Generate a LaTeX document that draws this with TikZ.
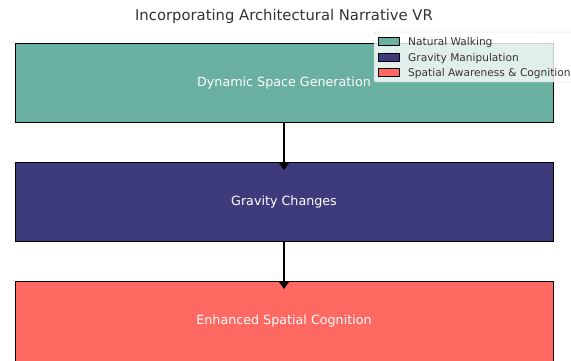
\documentclass[tikz,border=0pt]{standalone}
\usepackage{fontspec}
\setmainfont{DejaVu Sans}
\usetikzlibrary{positioning,arrows.meta}
\definecolor{walkcol}{HTML}{69B0A0}
\definecolor{gravcol}{HTML}{3D3B7C}
\definecolor{cogcol}{HTML}{FF6961}
\begin{document}
\begin{tikzpicture}[x=1pt,y=-1pt,
			stage/.style={draw=black, line width=0.6pt, minimum width=538pt, minimum height=79pt, inner sep=0pt, text=white, font=\fontsize{12.7}{15}\selectfont},
			flow/.style={-{Triangle[length=8pt,width=11pt]}, line width=1.4pt},
			swatch/.style={draw=black, line width=0.6pt, minimum width=21pt, minimum height=8pt, inner sep=0pt},
			entry/.style={anchor=base west, inner sep=0pt, font=\fontsize{10.6}{12}\selectfont, text=black!80}
			]
			\useasboundingbox (0,0) rectangle (571,360);
			\clip (0,0) rectangle (571,360);
			\node[font=\fontsize{14.8}{17}\selectfont, text=black!80] (title) at (284,16) {Incorporating Architectural Narrative VR};
			\node[stage, fill=walkcol] (dyn) at (284,82.5) {Dynamic Space Generation};
			\node[stage, fill=gravcol] (grav) at (284,201.5) {Gravity Changes};
			\node[stage, fill=cogcol, minimum height=80pt] (cog) at (284,321) {Enhanced Spatial Cognition};
			\coordinate (t1) at (284,170);
			\coordinate (t2) at (284,289);
			\draw[flow] (dyn.south) -- (t1);
			\draw[flow] (grav.south) -- (t2);
			% legend
			\draw[black!20, fill=white, fill opacity=0.8, rounded corners=2pt] (374,32) rectangle (575,82);
			\node[swatch, fill=walkcol] (s1) at (388.5,41.5) {};
			\node[swatch, fill=gravcol] (s2) at (388.5,57) {};
			\node[swatch, fill=cogcol] (s3) at (388.5,72.5) {};
			\node[entry] (l1) at (408,45.5) {Natural Walking};
			\node[entry] (l2) at (408,61) {Gravity Manipulation};
			\node[entry] (l3) at (408,76.5) {Spatial Awareness \& Cognition};
		\end{tikzpicture}
\end{document}
